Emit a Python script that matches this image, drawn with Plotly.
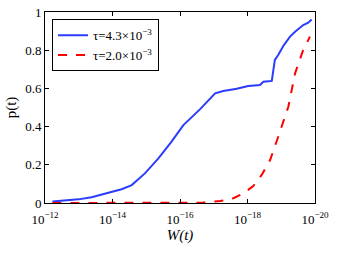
import plotly.graph_objects as go

# log10 of W(t) and p(t)
blue_logw = [-12.22, -12.99, -13.38, -13.78, -14.27, -14.57, -14.96, -15.36, -15.75, -16.10,
             -16.59, -17.04, -17.28, -17.68, -18.02, -18.37, -18.47, -18.72, -18.76, -18.81,
             -18.91, -19.06, -19.26, -19.41, -19.65, -19.80, -19.90]
blue_p = [0.008, 0.019, 0.030, 0.050, 0.072, 0.094, 0.155, 0.234, 0.321, 0.408,
          0.490, 0.574, 0.586, 0.598, 0.613, 0.618, 0.635, 0.639, 0.700, 0.749,
          0.775, 0.822, 0.871, 0.897, 0.932, 0.944, 0.961]

red_logw = [-12.22, -13.0, -14.0, -15.0, -16.0, -16.69, -17.19, -17.58, -17.88, -18.17,
            -18.42, -18.67, -18.91, -19.11, -19.21, -19.41, -19.65, -19.85]
red_p = [0.0, 0.0, 0.0, 0.0, 0.0, 0.002, 0.010, 0.025, 0.050, 0.089,
         0.147, 0.225, 0.347, 0.452, 0.504, 0.679, 0.801, 0.871]

blue_name = "τ=4.3×10<sup>−3</sup>"
red_name = "τ=2.0×10<sup>−3</sup>"
x_ticks = [-12, -14, -16, -18, -20]
x_ticktext = ["10<sup>−12</sup>", "10<sup>−14</sup>", "10<sup>−16</sup>",
              "10<sup>−18</sup>", "10<sup>−20</sup>"]
y_ticks = [0, 0.2, 0.4, 0.6, 0.8, 1]
y_ticktext = ["0", "0.2", "0.4", "0.6", "0.8", "1"]

font_family = "Liberation Serif"

fig = go.Figure()
fig.add_trace(go.Scatter(x=[10 ** v for v in blue_logw], y=blue_p, mode="lines",
                         name=blue_name, line=dict(color="#2b3cff", width=2)))
fig.add_trace(go.Scatter(x=[10 ** v for v in red_logw], y=red_p, mode="lines",
                         name=red_name, line=dict(color="#ff0000", width=2, dash="dash")))

fig.update_layout(
    width=360, height=258,
    margin=dict(l=45, r=45, t=12, b=55, autoexpand=False),
    paper_bgcolor="white", plot_bgcolor="white",
    font=dict(family=font_family, size=13, color="black"),
    showlegend=True,
    legend=dict(x=0.026, y=0.962, xanchor="left", yanchor="top",
                bgcolor="white", bordercolor="black", borderwidth=1,
                font=dict(family=font_family, size=13), tracegroupgap=0,
                itemwidth=30),
)
fig.update_xaxes(
    type="log", range=[-12, -20], automargin=False,
    tickvals=[10 ** v for v in x_ticks], ticktext=x_ticktext,
    tickfont=dict(family=font_family, size=13), ticklabelstandoff=4,
    ticklabeloverflow="allow",
    ticks="inside", ticklen=4, tickcolor="black",
    showline=True, linecolor="black", linewidth=1, mirror="ticks",
    showgrid=False, zeroline=False,
    title=dict(text="<i>W(t)</i>", font=dict(family=font_family, size=15), standoff=3),
)
fig.update_yaxes(
    range=[0, 1], tickvals=y_ticks, ticktext=y_ticktext, automargin=False,
    tickfont=dict(family=font_family, size=13), ticklabeloverflow="allow",
    ticks="inside", ticklen=4, tickcolor="black",
    showline=True, linecolor="black", linewidth=1, mirror="ticks",
    showgrid=False, zeroline=False,
    title=dict(text="p(t)", font=dict(family=font_family, size=15), standoff=4),
)

fig.write_html("out.html", config={"displayModeBar": False},
               post_script="document.body.style.margin='0';")
